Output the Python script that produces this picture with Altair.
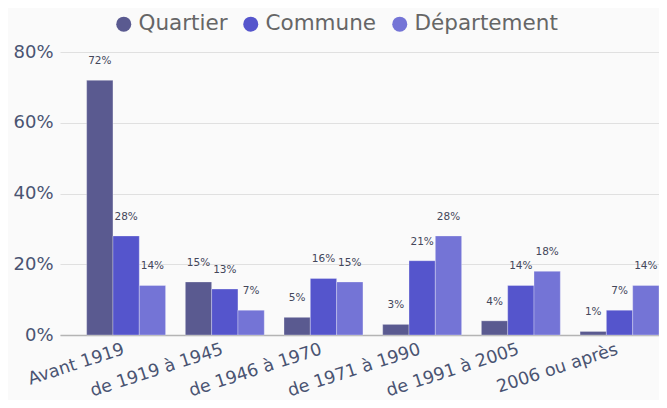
import altair as alt
import pandas as pd

periods = ["Avant 1919", "de 1919 à 1945", "de 1946 à 1970", "de 1971 à 1990", "de 1991 à 2005", "2006 ou après"]
series = ["Quartier", "Commune", "Département"]
quartier = [72, 15, 5, 3, 4, 1]
commune = [28, 13, 16, 21, 14, 7]
departement = [14, 7, 15, 28, 18, 14]
colors = ["#5a5a90", "#5555cc", "#7474d6"]

rows = []
for name, vals in zip(series, [quartier, commune, departement]):
    for p, v in zip(periods, vals):
        rows.append({"period": p, "serie": name, "value": v, "label": f"{v}%"})
df = pd.DataFrame(rows)

xscale = alt.Scale(paddingInner=0.2, paddingOuter=0.135, align=1)
x = alt.X("period:N", sort=periods, scale=xscale, title=None,
          axis=alt.Axis(labelAngle=-18, labelFontSize=17.5, labelColor="#4a5472",
                        labelFont="DejaVu Sans", ticks=False, labelPadding=5,
                        labelOffset=-5,
                        domainColor="#b4b4b4", domainWidth=1.5, grid=False))
y = alt.Y("value:Q", scale=alt.Scale(domain=[0, 80], nice=False), title=None,
          axis=alt.Axis(values=[0, 20, 40, 60, 80], labelExpr="datum.value + '%'",
                        labelFontSize=18, labelColor="#4a5472", labelFont="DejaVu Sans",
                        domain=False, ticks=False, labelPadding=7,
                        gridColor="#e0e0e0", gridWidth=1.2))
color = alt.Color("serie:N", sort=series, scale=alt.Scale(domain=series, range=colors),
                  legend=alt.Legend(title=None, orient="none", direction="horizontal",
                                    legendX=53, legendY=-39, symbolType="circle",
                                    symbolSize=225, symbolStrokeWidth=0,
                                    labelFontSize=21.5, labelColor="#666666",
                                    labelFont="DejaVu Sans", labelOffset=4,
                                    columnPadding=12))
xoff = alt.XOffset("serie:N", sort=series)

bars = alt.Chart(df).mark_bar(stroke="#ffffff", strokeWidth=0.6, strokeOpacity=0.5).encode(
    x=x, y=y, color=color, xOffset=xoff)

labels = alt.Chart(df).mark_text(dy=-19, baseline="middle", fontSize=10.5,
                                 font="DejaVu Sans", color="#44475a").encode(
    x=alt.X("period:N", sort=periods, scale=xscale),
    y="value:Q", xOffset=xoff, text="label:N")

chart = alt.layer(bars, labels).properties(
    width=599, height=283, background="#fafafa",
    autosize=alt.AutoSizeParams(type="none"),
    padding={"left": 52, "top": 44, "right": 0, "bottom": 65}
).configure_view(stroke=None)

chart.save("out.html", embed_options={"renderer": "svg", "actions": False})
